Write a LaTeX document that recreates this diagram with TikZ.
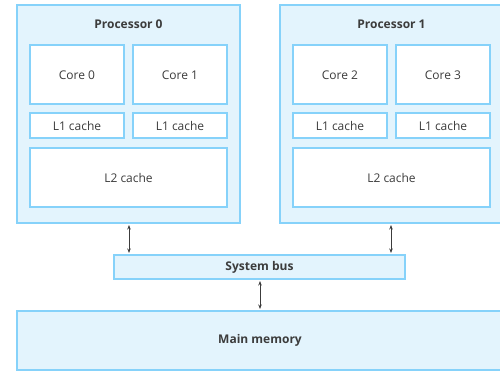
\documentclass[tikz,border=0pt]{standalone}
\usepackage{fontspec}
\setmainfont{Open Sans}
\usetikzlibrary{arrows.meta}
\definecolor{bord}{HTML}{86D2FA}
\definecolor{pale}{HTML}{E3F4FD}
\definecolor{txt}{HTML}{3C3C3C}
\begin{document}
\begin{tikzpicture}[x=1pt,y=-1pt,
  outer/.style={draw=bord,fill=pale,line width=2pt},
  inner/.style={draw=bord,fill=white,line width=2pt},
  lbl/.style={text=txt,font=\fontsize{12}{14}\selectfont},
  blbl/.style={text=txt,font=\fontsize{12}{14}\selectfont\bfseries},
  link/.style={draw=txt,line width=0.7pt,{Stealth[length=4.5pt,width=3.5pt]}-{Stealth[length=4.5pt,width=3.5pt]}}]
\useasboundingbox (0,0) rectangle (500,371);
\begin{scope}
\clip (0,0) rectangle (500,371);
% Processor 0
\draw[outer] (17,5) rectangle (240,223);
\node[blbl] (p0) at (128.5,24) {Processor 0};
\draw[inner] (30,45) rectangle (124,104); \node[lbl] (c0) at (77,75) {Core 0};
\draw[inner] (133,45) rectangle (227,104); \node[lbl] (c1) at (180,75) {Core 1};
\draw[inner] (30,113) rectangle (124,138); \node[lbl] (l10) at (77,126) {L1 cache};
\draw[inner] (133,113) rectangle (227,138); \node[lbl] (l11) at (180,126) {L1 cache};
\draw[inner] (30,148) rectangle (227,207); \node[lbl] (l20) at (128.5,178) {L2 cache};
% Processor 1
\draw[outer] (280,5) rectangle (503,223);
\node[blbl] (p1) at (391.5,24) {Processor 1};
\draw[inner] (293,45) rectangle (387,104); \node[lbl] (c2) at (340,75) {Core 2};
\draw[inner] (396,45) rectangle (490,104); \node[lbl] (c3) at (443,75) {Core 3};
\draw[inner] (293,113) rectangle (387,138); \node[lbl] (l12) at (340,126) {L1 cache};
\draw[inner] (396,113) rectangle (490,138); \node[lbl] (l13) at (443,126) {L1 cache};
\draw[inner] (293,148) rectangle (490,207); \node[lbl] (l21) at (391.5,178) {L2 cache};
% System bus
\draw[outer] (114,255) rectangle (405,279);
\node[blbl] (bus) at (259.5,267) {System bus};
% Main memory
\draw[outer] (17,311) rectangle (503,370);
\node[blbl] (mem) at (260,340) {Main memory};
% arrows
\coordinate (a0t) at (129,225); \coordinate (a0b) at (129,253);
\coordinate (a1t) at (391,225); \coordinate (a1b) at (391,253);
\coordinate (amt) at (260,281); \coordinate (amb) at (260,309);
\draw[link] (a0t) -- (a0b);
\draw[link] (a1t) -- (a1b);
\draw[link] (amt) -- (amb);
\end{scope}
\end{tikzpicture}
\end{document}
